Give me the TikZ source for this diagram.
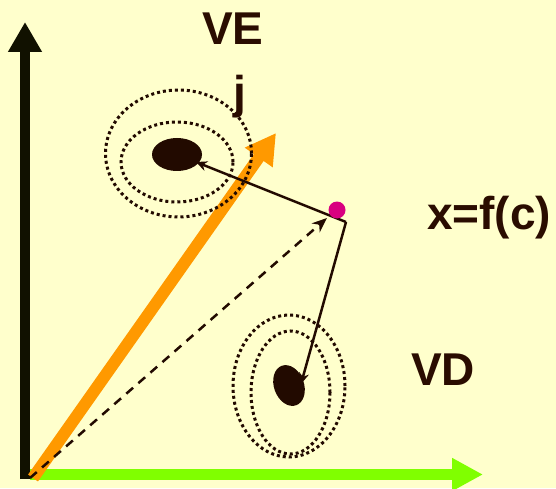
\documentclass[tikz,border=0pt]{standalone}
\usepackage{fontspec}
\setmainfont{Liberation Sans}
\usetikzlibrary{arrows.meta}
\definecolor{bg}{HTML}{FFFFCC}
\definecolor{axisblack}{HTML}{111100}
\definecolor{txt}{HTML}{2A0C00}
\definecolor{ink}{HTML}{220A00}
\definecolor{orangeA}{HTML}{FF9900}
\definecolor{greenA}{HTML}{80FF00}
\definecolor{magentaA}{HTML}{D80080}
\tikzset{
  lbl/.style={inner sep=0pt, anchor=base west, text=txt, font=\fontsize{46}{50}\selectfont\bfseries},
  dots/.style={draw=ink, line width=3pt, dash pattern=on 3pt off 3pt},
  conn/.style={draw=ink, line width=2.5pt, -{Stealth[length=11pt,width=10pt]}},
}
\begin{document}
\begin{tikzpicture}[x=1pt,y=1pt]
\fill[bg] (0,0) rectangle (556,488);
\useasboundingbox (0,0) rectangle (556,488);
% coordinates
\coordinate (yb) at (25,9);
\coordinate (yt) at (25,466);
\coordinate (xb) at (30,13.5);
\coordinate (xt) at (483,13.5);
\coordinate (ob) at (33,10);
\coordinate (ot) at (276,355);
\coordinate (db) at (30,10);
\coordinate (dt) at (327,270);
\coordinate (corner) at (346,266);
\coordinate (jtip) at (196,326);
\coordinate (vdtip) at (301,104);
% axes
\draw[line width=10pt, axisblack, -{Triangle[length=30pt,width=32pt]}] (yb) -- (yt);
\draw[line width=11pt, greenA, -{Triangle[length=31pt,width=31pt]}] (xb) -- (xt);
% orange vector
\draw[line width=12pt, orangeA, -{Triangle[length=30pt,width=32pt]}] (ob) -- (ot);
% dashed vector
\draw[ink, line width=2.5pt, dash pattern=on 9pt off 7pt, -{Stealth[length=15pt,width=12pt]}] (db) -- (dt);
% j region
\draw[dots] (178.5,334.5) ellipse (73 and 63.5);
\draw[dots] (177,326) ellipse (56 and 40);
\fill[ink] (177,333.5) ellipse (25 and 16.5);
% VD region
\draw[dots] (289,102) ellipse (56 and 71);
\draw[dots] (290.5,95.5) ellipse (39.5 and 61.5);
\fill[ink, rotate around={20:(289,102.5)}] (289,102.5) ellipse (15 and 21);
% connectors
\draw[conn] (corner) -- (jtip);
\draw[conn] (corner) -- (vdtip);
% point
\fill[magentaA] (337,278) circle (8.5);
% labels
\node[lbl] (ve) at (202,443) {VE};
\node[lbl, anchor=base] (j) at (240,379) {j};
\node[lbl] (xf) at (427,259) {x=f(c)};
\node[lbl] (vd) at (411,103) {VD};
\end{tikzpicture}
\end{document}
